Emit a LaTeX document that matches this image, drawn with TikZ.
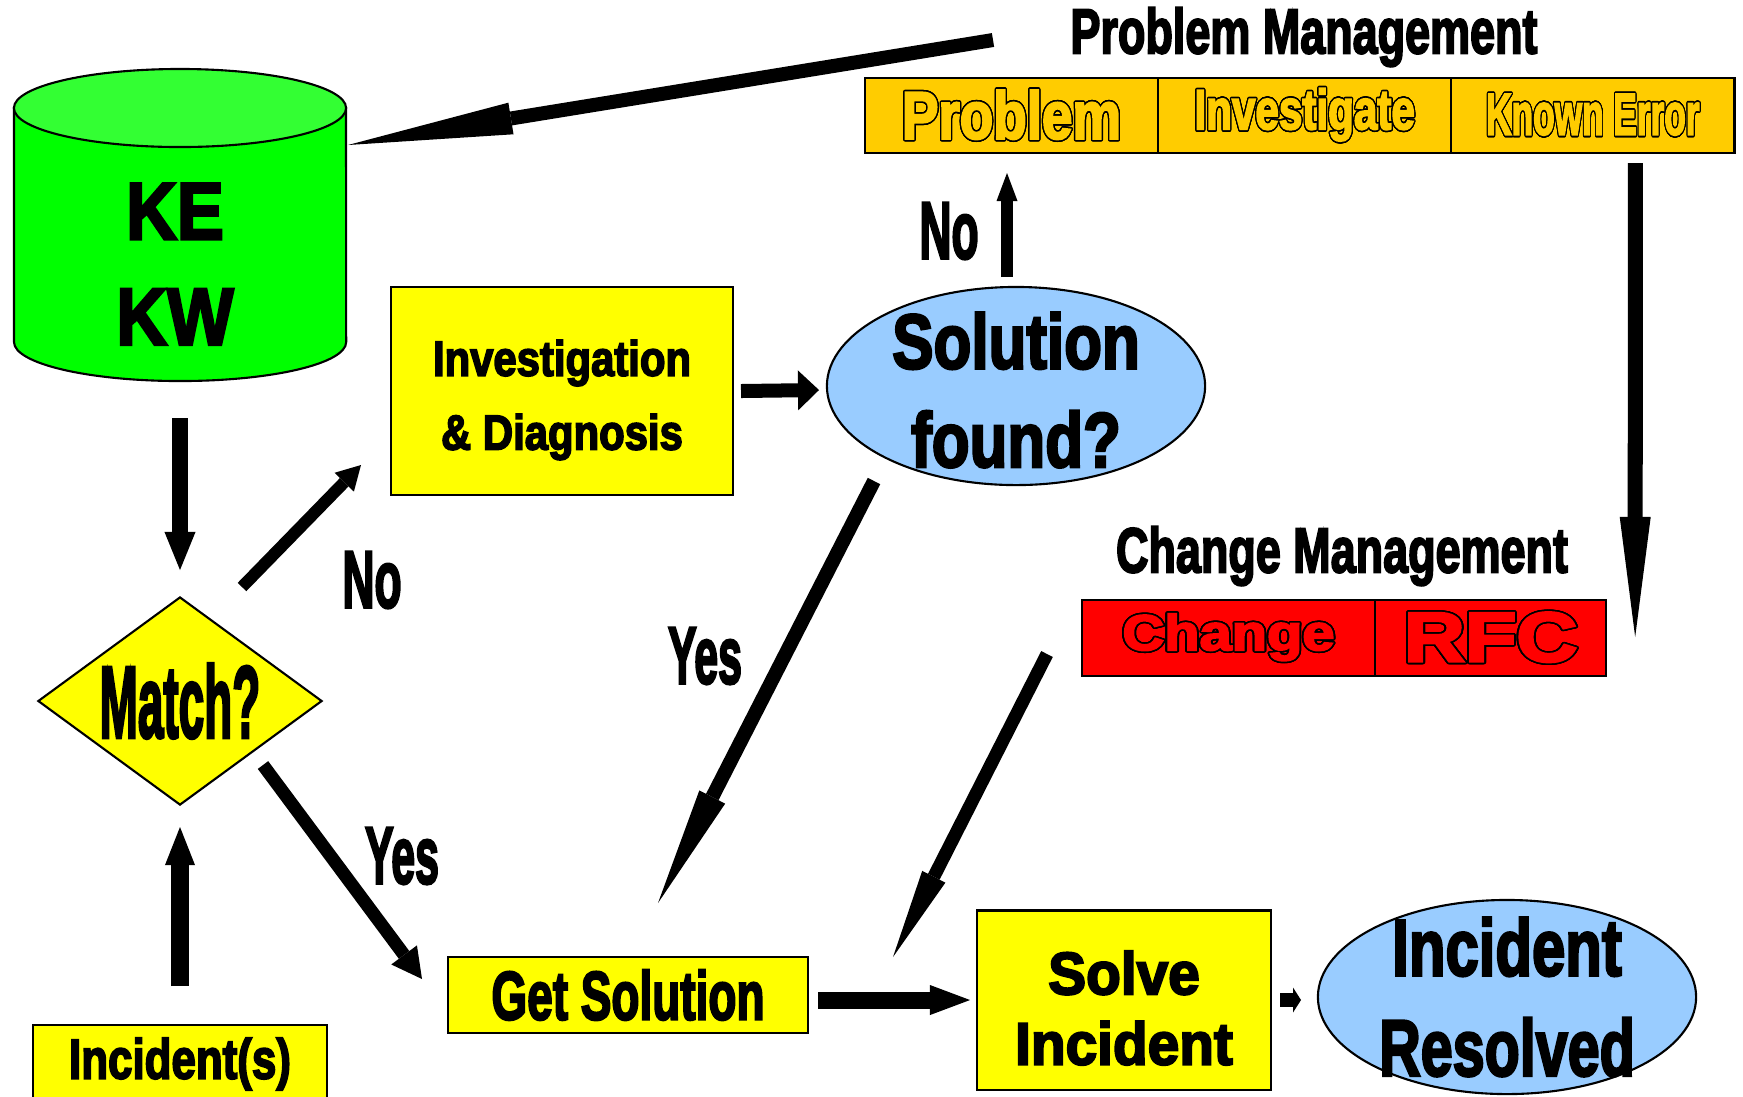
\documentclass[tikz,border=0pt]{standalone}
\usepackage{fontspec}
\setmainfont{Liberation Sans}
\newfontfamily\heavy{Liberation Sans Bold}[FakeBold=3.5]
\usepackage[copies]{contour}
\contourlength{0.45pt}
\contournumber{24}
\usetikzlibrary{positioning,calc,shapes.geometric,arrows.meta}
\definecolor{kegreen}{HTML}{00FF00}
\definecolor{ketop}{HTML}{33FF33}
\definecolor{boxyellow}{HTML}{FFFF00}
\definecolor{ovalblue}{HTML}{99CCFF}
\definecolor{pmorange}{HTML}{FFCC00}
\definecolor{cmred}{HTML}{FF0000}
\newcommand{\fs}[2]{\fontsize{#1}{#2}\selectfont}
\newcommand{\sq}[2]{\scalebox{#1}[1]{#2}}
\tikzset{%
  box/.style={draw,line width=0.6pt,fill=boxyellow,inner sep=0pt,outer sep=0pt,align=center},
  oval/.style={ellipse,draw,line width=0.6pt,fill=ovalblue,inner sep=0pt},
  cell/.style={draw,line width=0.6pt,inner sep=0pt,outer sep=0pt,minimum height=0.75cm},
  tag/.style={font=\heavy\fs{23}{28}},
  head/.style={font=\heavy\fs{18}{21}},
  fat/.style={line width=0.14cm},
  tip/.style 2 args={-{Triangle[length=#1,width=#2,line width=0pt]}}
}

\begin{document}
\begin{tikzpicture}[x=0.01cm,y=-0.01cm]
  \fill[white] (0,0) rectangle (1743,1096);
  \useasboundingbox (0,0) rectangle (1743,1096);

  % known error database
  \draw[line width=0.6pt,fill=kegreen] (14,108) -- (14,342)
    arc[start angle=180,end angle=360,x radius=1.66cm,y radius=0.39cm] -- (346,108) -- cycle;
  \draw[line width=0.6pt,fill=ketop] (180,108) ellipse[x radius=1.66cm,y radius=0.39cm];
  \node[font=\heavy\fs{23}{30},align=center] (kb) at (175,264) {\sq{0.87}{KE}\\\sq{0.87}{KW}};

  % incident flow
  \node[diamond,draw,line width=0.6pt,fill=boxyellow,minimum width=2.84cm,minimum height=2.08cm,
    aspect=1.37,inner sep=0pt,font=\heavy\fs{29}{33}] (match) at (180,701) {\sq{0.45}{Match?}};
  \node[box,minimum width=3.41cm,minimum height=2.08cm,
    label={[font=\heavy\fs{14}{21},align=center,yshift=-0.09cm]center:{\sq{0.85}{Investigation}\\\sq{0.85}{\& Diagnosis}}}] (inv) at (562,391) {};
  \node[oval,minimum width=3.78cm,minimum height=1.98cm,
    label={[font=\heavy\fs{22}{28},align=center,yshift=-0.04cm]center:{\sq{0.8}{Solution}\\\sq{0.8}{found?}}}] (sol) at (1016,386) {};
  \node[box,minimum width=3.59cm,minimum height=0.76cm,font=\heavy\fs{19.5}{23}] (getsol) at (628,995)
    {\sq{0.67}{Get Solution}};
  \node[box,minimum width=2.93cm,minimum height=1.79cm,
    label={[font=\heavy\fs{17}{20},align=center,yshift=-0.08cm]center:{\sq{0.95}{Solve}\\\sq{0.95}{Incident}}}] (solve) at (1124,1000) {};
  \node[oval,minimum width=3.78cm,minimum height=1.94cm,
    label={[font=\heavy\fs{22.7}{28.5},align=center]center:{\sq{0.75}{Incident}\\\sq{0.72}{Resolved}}}] (resolved) at (1507,997) {};
  \node[box,minimum width=2.94cm,minimum height=0.78cm,font=\heavy\fs{16}{19}] (incident) at (180,1064)
    {\sq{0.78}{Incident(s)}};

  % problem management
  \node[head] (pmt) at (1304,37) {\sq{0.71}{Problem Management}};
  \node[cell,fill=pmorange,text=pmorange,minimum width=2.93cm,font=\heavy\fs{19}{22}] (prob) at (1011.5,115.5)
    {\sq{0.82}{\contour{black}{Problem}}};
  \node[cell,fill=pmorange,text=pmorange,minimum width=2.93cm,font=\heavy\fs{16}{19},right=0pt of prob] (invest)
    {\sq{0.75}{\contour{black}{Investigate}}};
  \node[cell,fill=pmorange,text=pmorange,minimum width=2.83cm,font=\heavy\fs{16.7}{20},right=0pt of invest] (kerr)
    {\sq{0.6}{\contour{black}{Known Error}}};

  % change management
  \node[head] (cmt) at (1342,556) {\sq{0.71}{Change Management}};
  \node[cell,fill=cmred,text=cmred,minimum width=2.93cm,minimum height=0.76cm,font=\heavy\fs{14.3}{17}] (chg) at (1228.5,638)
    {\sq{1.15}{\contour{black}{Change}}};
  \node[cell,fill=cmred,text=cmred,minimum width=2.31cm,minimum height=0.76cm,font=\heavy\fs{20}{24},right=0pt of chg] (rfc)
    {\sq{1.2}{\contour{black}{RFC}}};

  % answers
  \node[tag] (nomatch) at (372,580) {\sq{0.55}{No}};
  \node[tag] (nosol) at (949,231) {\sq{0.55}{No}};
  \node[tag] (yessol) at (705,656) {\sq{0.53}{Yes}};
  \node[tag] (yesmatch) at (402,856) {\sq{0.53}{Yes}};

  % arrows
  \draw[fat,tip={1.65cm}{0.32cm}] ($(pmt)+(-311,3)$) -- ($(kb)+(173,-119)$);
  \draw[fat,line width=0.15cm,tip={1.2cm}{0.31cm}] ($(kerr)+(42.5,47.5)$) -- ($(rfc)+(144.5,-1)$);
  \draw[fat,line width=0.15cm,tip={0.38cm}{0.31cm}] ($(kb)+(5,154)$) -- ($(match)+(0,-131)$);
  \draw[fat,line width=0.12cm,tip={0.24cm}{0.27cm}] ($(match)+(62,-114)$) -- ($(inv)+(-201,74)$);
  \draw[fat,tip={0.21cm}{0.40cm}] ($(inv)+(179,0)$) -- ($(sol)+(-197,4)$);
  \draw[fat,line width=0.12cm,tip={0.28cm}{0.21cm}] ($(sol)+(-9,-109)$) -- ($(prob)+(-4.5,57.5)$);
  \draw[fat,tip={1.19cm}{0.29cm}] ($(sol)+(-142,95)$) -- ($(getsol)+(30,-92)$);
  \draw[fat,line width=0.13cm,tip={0.30cm}{0.32cm}] ($(match)+(83,64)$) -- ($(getsol)+(-206,-16)$);
  \draw[fat,line width=0.17cm,tip={0.38cm}{0.30cm}] ($(incident)+(0,-78)$) -- ($(match)+(0,126)$);
  \draw[fat,line width=0.17cm,tip={0.40cm}{0.30cm}] ($(getsol)+(190,5)$) -- ($(solve)+(-154,0)$);
  \draw[fat,line width=0.13cm,tip={0.9cm}{0.26cm}] ($(chg)+(-181.5,16)$) -- ($(solve)+(-231,-43)$);
  \draw[fat,tip={0.08cm}{0.25cm}] ($(solve)+(156,0)$) -- ($(resolved)+(-206,3)$);
\end{tikzpicture}
\end{document}
